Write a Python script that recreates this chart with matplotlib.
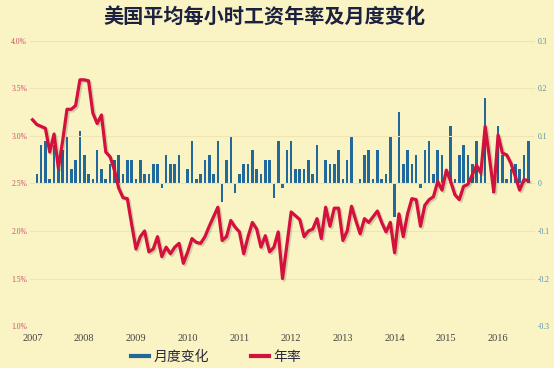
import matplotlib.pyplot as plt
import matplotlib.patheffects as pe
from matplotlib.lines import Line2D
import numpy as np

plt.rcParams['font.family'] = ['Noto Sans CJK SC', 'DejaVu Sans']

# monthly data, Jan 2007 .. Aug 2016
years = ['2007', '2008', '2009', '2010', '2011', '2012', '2013', '2014', '2015', '2016']

annual_rate = [
    3.17, 3.12, 3.10, 3.08, 2.83, 3.02, 2.66, 2.95, 3.28, 3.28, 3.32, 3.59,
    3.59, 3.58, 3.24, 3.13, 3.22, 2.83, 2.78, 2.64, 2.45, 2.35, 2.34, 2.07,
    1.81, 1.94, 2.00, 1.78, 1.81, 1.94, 1.73, 1.83, 1.76, 1.83, 1.87, 1.66,
    1.78, 1.92, 1.88, 1.87, 1.94, 2.05, 2.15, 2.25, 1.90, 1.94, 2.11, 2.04,
    1.99, 1.76, 1.94, 2.09, 2.02, 1.83, 1.95, 1.78, 1.83, 1.99, 1.50, 1.85,
    2.20, 2.16, 2.12, 1.94, 2.00, 2.02, 2.13, 1.92, 2.25, 2.05, 2.24, 2.24,
    1.90, 2.00, 2.26, 2.11, 1.97, 2.13, 2.09, 2.15, 2.21, 2.09, 1.99, 2.09,
    1.77, 2.18, 1.94, 2.18, 2.34, 2.33, 2.05, 2.27, 2.33, 2.36, 2.52, 2.43,
    2.64, 2.52, 2.38, 2.33, 2.47, 2.49, 2.59, 2.69, 2.61, 3.10, 2.77, 2.41,
    3.01, 2.82, 2.80, 2.71, 2.57, 2.43, 2.54, 2.53,
]

monthly_change = [
    0.00, 0.02, 0.08, 0.09, 0.01, 0.08, 0.03, 0.07, 0.10, 0.03, 0.05, 0.11,
    0.06, 0.02, 0.01, 0.07, 0.03, 0.01, 0.04, 0.05, 0.06, 0.02, 0.05, 0.05,
    0.01, 0.05, 0.02, 0.02, 0.04, 0.04, -0.01, 0.06, 0.04, 0.04, 0.06, 0.00,
    0.03, 0.09, 0.01, 0.02, 0.05, 0.06, 0.02, 0.09, -0.04, 0.05, 0.10, -0.02,
    0.02, 0.04, 0.04, 0.07, 0.03, 0.02, 0.05, 0.05, -0.03, 0.09, -0.01, 0.07,
    0.09, 0.03, 0.03, 0.03, 0.05, 0.02, 0.08, 0.00, 0.05, 0.04, 0.04, 0.07,
    0.01, 0.05, 0.10, 0.00, 0.01, 0.06, 0.07, 0.01, 0.07, 0.01, 0.02, 0.10,
    -0.07, 0.15, 0.04, 0.07, 0.04, 0.06, -0.01, 0.07, 0.09, 0.02, 0.07, 0.06,
    0.00, 0.12, 0.01, 0.06, 0.08, 0.06, 0.04, 0.09, 0.03, 0.18, 0.00, -0.02,
    0.12, 0.06, 0.01, 0.03, 0.04, 0.03, 0.06, 0.09,
]

bg = '#faf3c4'
blue = '#20699a'
red = '#d4103c'

x = np.arange(len(annual_rate))

fig = plt.figure(figsize=(5.54, 3.68), dpi=100, facecolor=bg)
ax = fig.add_axes([0.054, 0.114, 0.912, 0.775])
ax2 = ax.twinx()

ax2.set_facecolor(bg)
ax2.bar(x, monthly_change, width=0.6, color=blue, zorder=2)
ax2.set_ylim(-0.3, 0.3)
ax2.set_yticks([-0.3, -0.2, -0.1, 0, 0.1, 0.2, 0.3])
ax2.set_yticklabels(['-0.3', '-0.2', '-0.1', '0', '0.1', '0.2', '0.3'])

ax.plot(x, annual_rate, color=red, lw=2.3, solid_joinstyle='round',
        path_effects=[pe.SimpleLineShadow(offset=(1.2, -1.2), alpha=0.15), pe.Normal()])
ax.set_ylim(1.0, 4.0)
ax.set_yticks(np.arange(1.0, 4.01, 0.5))
ax.set_yticklabels(['%.1f%%' % v for v in np.arange(1.0, 4.01, 0.5)])
ax.set_xlim(-0.6, 116.6)
ax.set_xticks(np.arange(0, 12 * len(years), 12))
ax.set_xticklabels(years)

ax.set_zorder(ax2.get_zorder() + 1)
ax.patch.set_visible(False)

for a in (ax, ax2):
    for s in a.spines.values():
        s.set_visible(False)
    a.tick_params(length=0)

ax.grid(axis='y', color='#efe4b2', lw=0.8)
ax.set_axisbelow(True)

for lab in ax.get_yticklabels():
    lab.set_fontfamily('Liberation Serif')
    lab.set_fontsize(5.5)
    lab.set_color('#c8506a')
for lab in ax2.get_yticklabels():
    lab.set_fontfamily('Liberation Serif')
    lab.set_fontsize(5.5)
    lab.set_color('#4f8ea8')
for lab in ax.get_xticklabels():
    lab.set_fontfamily('Liberation Serif')
    lab.set_fontsize(7.5)
    lab.set_color('#444444')
ax.tick_params(axis='x', pad=6)
ax.tick_params(axis='y', pad=2)
ax2.tick_params(axis='y', pad=2)

fig.text(0.478, 0.955, '美国平均每小时工资年率及月度变化', ha='center', va='center',
         fontsize=14.5, fontweight='bold', color='#1c2140')

handles = [Line2D([], [], color=blue, lw=3), Line2D([], [], color=red, lw=3)]
fig.legend(handles, ['月度变化', '年率'], loc='center', bbox_to_anchor=(0.39, 0.03),
           ncol=2, frameon=False, fontsize=10, handlelength=1.3, handletextpad=0.3,
           columnspacing=3.0, labelcolor='#2a2a3a')

fig.savefig('out.png', dpi=100, facecolor=bg)
